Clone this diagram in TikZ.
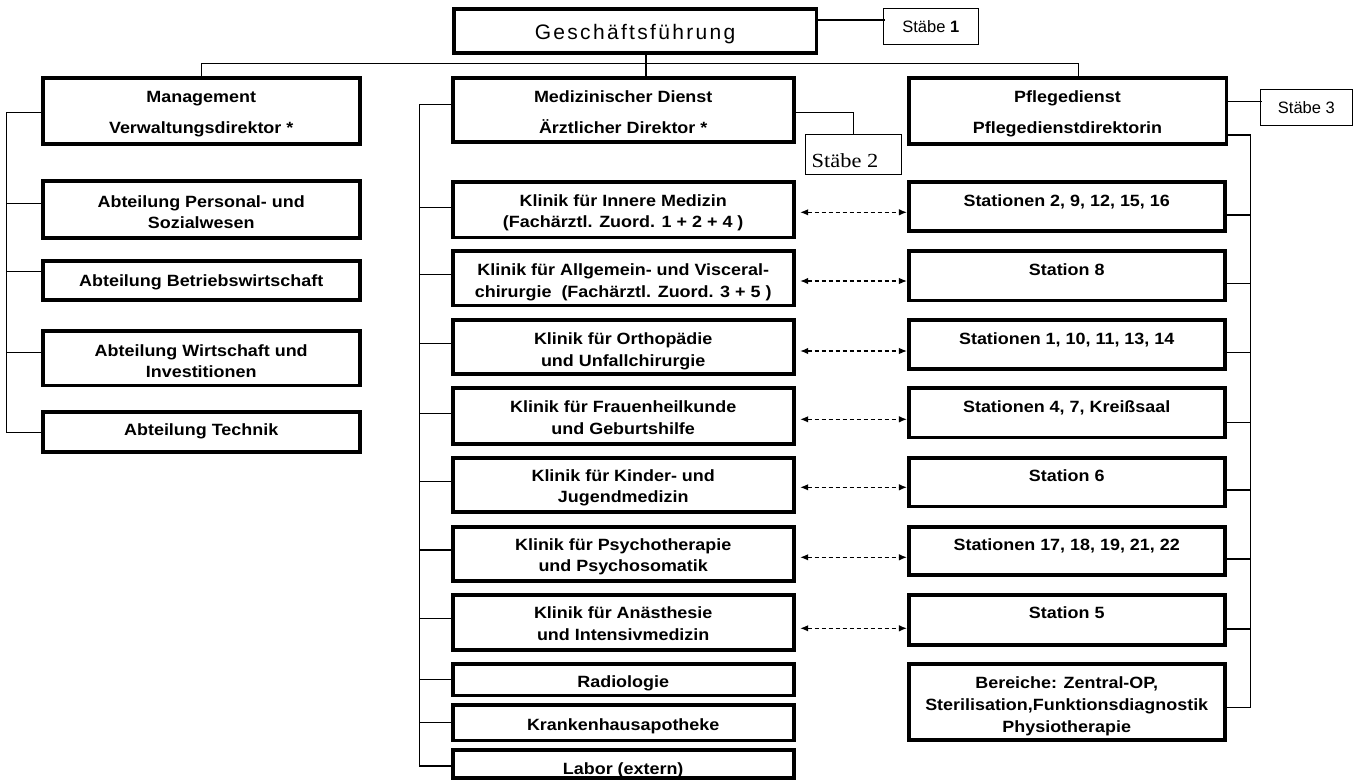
\documentclass[tikz,border=0pt]{standalone}
\usepackage{fontspec}
\setmainfont{Liberation Sans}
\newfontfamily\lsans[FakeStretch=1.1]{Liberation Sans}
\newfontfamily\gfont[LetterSpace=11]{Liberation Sans}
\newfontfamily\sserif[FakeStretch=1.12]{Liberation Serif}
\usetikzlibrary{fit,arrows.meta}
\newcommand\orgbox[8][txt]{%
  \node[box, fit={(#3,#4) (#5,#6)}] (#2) {};
  \node[#1, anchor=north] (#2t) at ({(#3+#5)/2},{#7-5.9}) {#8};}
\begin{document}
\begin{tikzpicture}[x=1pt,y=-1pt,
  box/.style={draw=black, line width=3.8pt, inner sep=0pt},
  thinbox/.style={draw=black, line width=1pt, inner sep=0pt},
  txt/.style={inner sep=0pt, align=center, text=black, font=\lsans\bfseries\fontsize{16.3}{21.7}\selectfont},
  headtxt/.style={txt, font=\lsans\bfseries\fontsize{16.3}{31}\selectfont},
  gftxt/.style={inner sep=0pt, text=black, font=\gfont\fontsize{21}{24}\selectfont},
  stabtxt/.style={inner sep=0pt, text=black, font=\fontsize{16.5}{19}\selectfont},
  stab2txt/.style={inner sep=0pt, text=black, font=\sserif\fontsize{20}{22}\selectfont},
  conn/.style={draw=black, line width=1.1pt},
  darr/.style={draw=black, line width=1.2pt, dash pattern=on 4pt off 3pt,
    {Latex[length=8pt,width=6.5pt]}-{Latex[length=8pt,width=6.5pt]},
    shorten <=4.5pt, shorten >=3.6pt}]
\useasboundingbox (0,0) rectangle (1360,781);

% top level
\node[box, fit={(453.6,9.2) (816.4,53.1)}] (gf) {};
\node[gftxt, anchor=north] (gft) at (635,24.5) {Geschäftsführung};
\node[thinbox, fit={(883.3,9) (978.3,45)}] (s1) {};
\node[stabtxt] (s1t) at (s1.center) {Stäbe \textbf{1}};

% second level
\orgbox[headtxt]{mgmt}{42.6}{77.9}{359.8}{143.8}{96.7}{Management\\Verwaltungsdirektor *}
\orgbox[headtxt]{med}{452.6}{77.9}{793.8}{142.1}{96.7}{Medizinischer Dienst\\Ärztlicher Direktor *}
\orgbox[headtxt]{pfl}{908.6}{77.9}{1226.4}{143.8}{96.7}{Pflegedienst\\Pflegedienstdirektorin}
\node[thinbox, fit={(805,134.7) (901.7,174)}] (s2) {};
\node[stab2txt] (s2t) at (845,160.3) {Stäbe 2};
\node[thinbox, fit={(1260,89.3) (1352.7,126)}] (s3) {};
\node[stabtxt] (s3t) at (s3.center) {Stäbe 3};

% left column
\orgbox{pers}{42.6}{181.2}{359.8}{238.1}{201}{Abteilung Personal- und\\Sozialwesen}
\orgbox{betr}{42.6}{261.2}{359.8}{299.8}{280}{Abteilung Betriebswirtschaft}
\orgbox{wirt}{42.6}{331.2}{359.8}{385.4}{350}{Abteilung Wirtschaft und\\Investitionen}
\orgbox{tech}{42.6}{411.9}{359.8}{452.1}{429.3}{Abteilung Technik}

% middle column
\orgbox{inn}{452.6}{181.9}{793.8}{237.4}{200}{Klinik für Innere Medizin\\(Fachärztl. Zuord. 1 + 2 + 4 )}
\orgbox{allg}{452.6}{250.9}{793.8}{305.4}{269.3}{Klinik für Allgemein- und Visceral-\\chirurgie~ (Fachärztl. Zuord. 3 + 5 )}
\orgbox{orth}{452.6}{319.6}{793.8}{374.1}{338.3}{Klinik für Orthopädie\\und Unfallchirurgie}
\orgbox{frau}{452.6}{387.9}{793.8}{444.1}{406.7}{Klinik für Frauenheilkunde\\und Geburtshilfe}
\orgbox{kind}{452.6}{457.6}{793.8}{512.1}{475}{Klinik für Kinder- und\\Jugendmedizin}
\orgbox{psy}{452.6}{526.9}{793.8}{580.8}{544}{Klinik für Psychotherapie\\und Psychosomatik}
\orgbox{anae}{452.6}{595.2}{793.8}{649.8}{612.7}{Klinik für Anästhesie\\und Intensivmedizin}
\orgbox{rad}{452.6}{663.6}{793.8}{695.4}{681.7}{Radiologie}
\orgbox{apo}{452.6}{705.2}{793.8}{740.4}{724}{Krankenhausapotheke}
\orgbox{lab}{452.6}{750.2}{793.8}{778.1}{768.3}{Labor (extern)}

% right column
\orgbox{st2}{908.6}{181.9}{1224.8}{230.8}{200}{Stationen 2, 9, 12, 15, 16}
\orgbox{st8}{908.6}{250.9}{1224.8}{300.4}{269.3}{Station 8}
\orgbox{st1}{908.6}{319.6}{1224.8}{369.1}{338.3}{Stationen 1, 10, 11, 13, 14}
\orgbox{st4}{908.6}{387.9}{1224.8}{437.4}{406.7}{Stationen 4, 7, Kreißsaal}
\orgbox{st6}{908.6}{457.6}{1224.8}{506.4}{475.7}{Station 6}
\orgbox{st17}{908.6}{526.9}{1224.8}{574.8}{544}{Stationen 17, 18, 19, 21, 22}
\orgbox{st5}{908.6}{595.2}{1224.8}{644.8}{612.7}{Station 5}
\orgbox{ber}{908.6}{663.6}{1224.8}{739.8}{682.7}{Bereiche: Zentral-OP,\\Sterilisation,Funktionsdiagnostik\\Physiotherapie}

% top connectors
\draw[conn] ([yshift=11.15pt]gf.east) -- ++(66.9,0);
\draw[conn] ([xshift=11pt]gf.south) -- ++(0,24.8);
\draw[conn] (mgmt.north) -- ++(0,-12.2) -| ([xshift=10.8pt]pfl.north);
\draw[conn] ([yshift=-2.7pt]med.east) -| (s2.north);
\draw[conn] ([yshift=9.15pt]pfl.east) -- ++(33.6,0);

% left tree
\draw[conn] ([yshift=-1.85pt]mgmt.west) -- ++(-34.3,0) |- ([yshift=-0.3pt]tech.west);
\draw[conn] ([yshift=6.35pt]pers.west) -- ++(-34.3,0);
\draw[conn] ([yshift=8.8pt]betr.west) -- ++(-34.3,0);
\draw[conn] ([yshift=5.6pt]wirt.west) -- ++(-34.3,0);

% middle tree
\draw[conn] ([yshift=5.7pt]med.west) -- ++(-30.9,0) |- ([yshift=-1.85pt]lab.west);
\draw[conn] ([yshift=1.95pt]inn.west) -- ++(-30.9,0);
\draw[conn] ([yshift=3.85pt]allg.west) -- ++(-30.9,0);
\draw[conn] ([yshift=3.55pt]orth.west) -- ++(-30.9,0);
\draw[conn] ([yshift=2.7pt]frau.west) -- ++(-30.9,0);
\draw[conn] ([yshift=3.15pt]kind.west) -- ++(-30.9,0);
\draw[conn] ([yshift=3.85pt]psy.west) -- ++(-30.9,0);
\draw[conn] ([yshift=4.2pt]anae.west) -- ++(-30.9,0);
\draw[conn] ([yshift=0.2pt]rad.west) -- ++(-30.9,0);
\draw[conn] ([yshift=0.5pt]apo.west) -- ++(-30.9,0);

% right tree
\draw[conn] ([yshift=-24.15pt]pfl.east) -- ++(22.6,0) |- ([yshift=-5.6pt]ber.east);
\draw[conn] ([yshift=-8.65pt]st2.east) -- ++(24.2,0);
\draw[conn] ([yshift=-7.65pt]st8.east) -- ++(24.2,0);
\draw[conn] ([yshift=-8.35pt]st1.east) -- ++(24.2,0);
\draw[conn] ([yshift=-9.65pt]st4.east) -- ++(24.2,0);
\draw[conn] ([yshift=-8pt]st6.east) -- ++(24.2,0);
\draw[conn] ([yshift=-8.15pt]st17.east) -- ++(24.2,0);
\draw[conn] ([yshift=-9pt]st5.east) -- ++(24.2,0);

% dashed links
\draw[darr] ([yshift=-2.65pt]inn.east) -- ++(114.8,0);
\draw[darr] ([yshift=-2.85pt]allg.east) -- ++(114.8,0);
\draw[darr] ([yshift=-4.15pt]orth.east) -- ++(114.8,0);
\draw[darr] ([yshift=-3.3pt]frau.east) -- ++(114.8,0);
\draw[darr] ([yshift=-2.45pt]kind.east) -- ++(114.8,0);
\draw[darr] ([yshift=-3.45pt]psy.east) -- ++(114.8,0);
\draw[darr] ([yshift=-5.8pt]anae.east) -- ++(114.8,0);
\end{tikzpicture}
\end{document}
